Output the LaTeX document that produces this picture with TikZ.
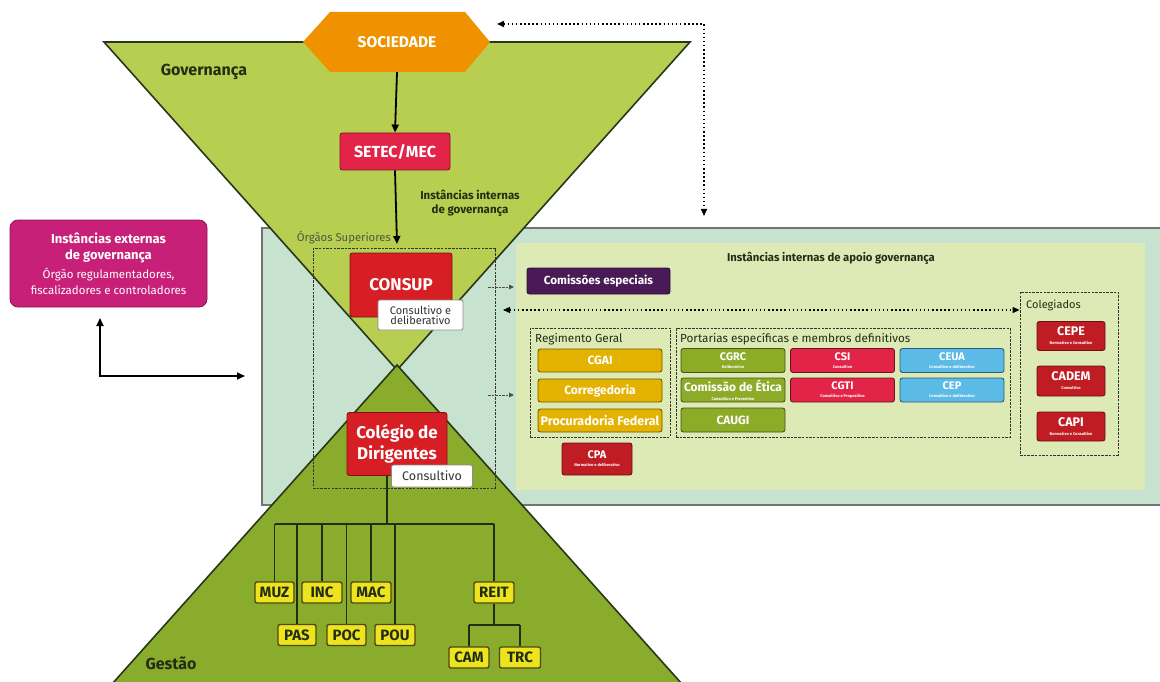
\documentclass[tikz,border=0pt]{standalone}
\usepackage{fontspec}
\setmainfont{Fira Sans}
\usetikzlibrary{arrows.meta}

\definecolor{topgreen}{RGB}{184,206,80}
\definecolor{botgreen}{RGB}{138,172,44}
\definecolor{mint}{RGB}{200,226,208}
\definecolor{innerpanel}{RGB}{222,234,182}
\definecolor{edgeline}{RGB}{40,55,25}
\definecolor{inkdark}{RGB}{35,45,20}
\definecolor{socorange}{RGB}{240,146,0}
\definecolor{setecred}{RGB}{226,36,72}
\definecolor{consupred}{RGB}{214,30,36}
\definecolor{extmagenta}{RGB}{200,32,120}
\definecolor{purplebox}{RGB}{74,26,86}
\definecolor{goldbox}{RGB}{228,178,0}
\definecolor{greenbox}{RGB}{140,172,40}
\definecolor{cyanbox}{RGB}{92,186,230}
\definecolor{darkred}{RGB}{192,28,36}
\definecolor{treeyellow}{RGB}{238,228,30}
\definecolor{treeedge}{RGB}{80,72,20}

\newcommand\sublbl[1]{\\[-3pt]\fontsize{4}{4}\selectfont #1}
\newcommand\exttitle{\bfseries\fontsize{13}{15}\selectfont}

\tikzset{
  rb/.style={rounded corners=2.5pt, line width=0.9pt, text=white, align=center,
    inner sep=0pt, font=\bfseries\fontsize{12}{12}\selectfont},
  goldb/.style={rb, fill=goldbox, draw=goldbox!50!black, minimum width=124, minimum height=23},
  greenb/.style={rb, fill=greenbox, draw=greenbox!50!black, minimum width=104, minimum height=24},
  redb/.style={rb, fill=setecred, draw=setecred!50!black, minimum width=104, minimum height=24},
  cyanb/.style={rb, fill=cyanbox, draw=cyanbox!50!black, minimum width=104, minimum height=24},
  colb/.style={rb, fill=darkred, draw=darkred!55!black, minimum width=68, minimum height=29,
    font=\bfseries\fontsize{12.5}{12}\selectfont},
  whiteb/.style={rounded corners=2pt, fill=white, draw=black!45, line width=0.8pt,
    align=center, inner sep=0pt, text=black!80, font=\fontsize{11}{11}\selectfont},
  treeb/.style={rounded corners=2pt, fill=treeyellow, draw=treeedge, line width=1.4pt,
    inner sep=0pt, minimum height=21, text=inkdark, font=\bfseries\fontsize{15}{15}\selectfont},
  dbox/.style={draw=black!80, line width=0.9pt, dash pattern=on 2.5pt off 1.2pt, inner sep=0pt},
  lbl/.style={inner sep=0pt, text=inkdark, font=\fontsize{11.7}{12}\selectfont},
  tip/.style={},
  arr/.style={line width=1.8pt, -{Triangle[length=8pt,width=7pt]}},
  dblarr/.style={line width=1.8pt, {Triangle[length=8pt,width=7pt]}-{Triangle[length=8pt,width=7pt]}},
  dotarr/.style={line width=1.6pt, dash pattern=on 1.5pt off 2.6pt,
    {Triangle[length=7pt,width=6pt]}-{Triangle[length=7pt,width=6pt]}},
  smallarr/.style={line width=1pt, draw=black!70, dash pattern=on 2.5pt off 1pt,
    -{Triangle[length=5pt,width=4.5pt]}},
  treeline/.style={line width=1.8pt, draw=inkdark},
}

\begin{document}
\begin{tikzpicture}[x=1pt,y=-1pt]
\useasboundingbox (0,0) rectangle (1160,682);
\clip (0,0) rectangle (1160,682);
\fill[white] (0,0) rectangle (1160,682);

% background panels of the internal support bodies
\draw[fill=mint, draw=black!55, line width=1.4pt] (262,228) rectangle (1163,505);
\fill[innerpanel] (516,243) rectangle (1145,490);

% hourglass: governance above, management below
\draw[fill=topgreen, draw=edgeline, line width=1.6pt] (104,42) -- (690,42) -- (397,370) -- cycle;
\draw[fill=botgreen, draw=edgeline, line width=1.6pt] (397,365) -- (690,693) -- (104,693) -- cycle;

% society hexagon
\fill[socorange] (303,42) -- (330,12) -- (465,12) -- (490,42) -- (465,72) -- (330,72) -- cycle;
\node[inner sep=0pt, minimum width=187, minimum height=60, text=white,
  font=\bfseries\fontsize{15.5}{16}\selectfont] (soc) at (397,42) {SOCIEDADE};

\node[lbl, font=\bfseries\fontsize{16}{16}\selectfont] (gov) at (204,72) {Governança};
\node[lbl, font=\bfseries\fontsize{16}{16}\selectfont] (gest) at (171,663) {Gestão};

\node[rb, fill=setecred, draw=setecred!60!black, minimum width=110, minimum height=37,
  font=\bfseries\fontsize{16}{16}\selectfont] (setec) at (395,151.5) {SETEC/MEC};

\node[lbl, align=center, font=\bfseries\fontsize{11.5}{14}\selectfont] (iig) at (470,203)
  {Instâncias internas\\de governança};

% external governance bodies
\node[rounded corners=8pt, fill=extmagenta, draw=extmagenta!70!black, line width=0.8pt,
  minimum width=197, minimum height=87, inner sep=0pt, text=white, align=center,
  font=\fontsize{11.5}{16}\selectfont] (ext) at (108.5,263.5)
  {\exttitle Instâncias externas\\\exttitle de governança\\[3pt]Órgão regulamentadores,\\fiscalizadores e controladores};
\coordinate (lt) at (100,318);
\coordinate (le) at (245,376);
\draw[dblarr] (lt) |- (le);

% top right dotted link between society and the support panel
\coordinate (socr) at (497,24);
\coordinate (pant) at (704,216);
\draw[dotarr] (socr) -| (pant);

% superior bodies
\node[dbox, minimum width=182, minimum height=240] (orgsup) at (404,368) {};
\node[lbl, anchor=east, text=inkdark!80, font=\fontsize{11.3}{12}\selectfont] (osl) at (391,238) {Órgãos Superiores};
\coordinate (osin) at (397,244);
\draw[arr] (setec.south) -- (osin);
\draw[arr] (soc.south) -- (setec.north);

\node[rb, fill=consupred, draw=consupred!60!black, minimum width=102, minimum height=64,
  font=\bfseries\fontsize{17}{17}\selectfont] (consup) at (401,285) {\raisebox{2pt}{CONSUP}};
\node[whiteb, minimum width=85, minimum height=30] (consupt) at (420.5,315) {Consultivo e\\[-1pt]deliberativo};

\coordinate (tj) at (387,524);
\node[rb, fill=consupred, draw=consupred!60!black, minimum width=100, minimum height=63,
  font=\bfseries\fontsize{17}{20}\selectfont] (colg) at (397,444) {\raisebox{3pt}{\shortstack{Colégio de\\Dirigentes}}};
\draw[treeline] (colg.south -| tj) -- (tj);
\node[whiteb, minimum width=81, minimum height=22, font=\fontsize{12.5}{12}\selectfont] (colgt) at (432,476) {Consultivo};

% short links to the support panel
\coordinate (a1s) at (488,287); \coordinate (a1e) at (514,287);
\coordinate (a2s) at (488,395); \coordinate (a2e) at (514,395);
\draw[smallarr] (a1s) -- (a1e);
\draw[smallarr] (a2s) -- (a2e);

% internal support bodies
\node[lbl, font=\bfseries\fontsize{11.3}{12}\selectfont] (iiag) at (831,258) {Instâncias internas de apoio governança};
\node[rb, fill=purplebox, draw=purplebox!60!black, minimum width=143, minimum height=26,
  font=\bfseries\fontsize{11.7}{12}\selectfont] (com) at (598.5,281) {Comissões especiais};

\node[dbox, minimum width=140, minimum height=109] (reg) at (600,382.5) {};
\node[lbl, anchor=west] (regl) at (535,339) {Regimento Geral};
\node[goldb] (cgai) at (600,360.5) {CGAI};
\node[goldb] (corr) at (600,390.5) {Corregedoria};
\node[goldb, font=\bfseries\fontsize{12.5}{12}\selectfont] (proc) at (600,420.5) {Procuradoria Federal};

\node[dbox, minimum width=334, minimum height=109] (port) at (843,382.5) {};
\node[lbl, anchor=west] (portl) at (680,339) {Portarias específicas e membros definitivos};
\node[greenb, font=\bfseries\fontsize{11}{11}\selectfont] (cgrc) at (733,360.5) {CGRC\sublbl{Deliberativo}};
\node[greenb] (etica) at (733,390) {Comissão de Ética\sublbl{Consultivo e Preventivo}};
\node[greenb] (caugi) at (733,420) {CAUGI};
\node[redb, font=\bfseries\fontsize{11}{11}\selectfont] (csi) at (842.5,360.5) {CSI\sublbl{Consultivo}};
\node[redb, font=\bfseries\fontsize{11}{11}\selectfont] (cgti) at (842.5,390) {CGTI\sublbl{Consultivo e Propositivo}};
\node[cyanb, font=\bfseries\fontsize{11}{11}\selectfont] (ceua) at (952,360.5) {CEUA\sublbl{Consultivo e deliberativo}};
\node[cyanb, font=\bfseries\fontsize{11}{11}\selectfont] (cep) at (952,390) {CEP\sublbl{Consultivo e deliberativo}};

\node[colb, minimum width=70, minimum height=32, font=\bfseries\fontsize{11}{11}\selectfont] (cpa) at (597,459) {CPA\sublbl{Normativo e deliberativo}};

\node[dbox, minimum width=98, minimum height=163] (cole) at (1069,373.5) {};
\node[lbl, anchor=west, font=\fontsize{11}{12}\selectfont] (colel) at (1026,305) {Colegiados};
\node[colb] (cepe) at (1071,336) {CEPE\sublbl{Normativo e Consultivo}};
\node[colb, minimum height=30] (cadem) at (1071,381) {CADEM\sublbl{Consultivo}};
\node[colb] (capi) at (1071,426.5) {CAPI\sublbl{Normativo e Consultivo}};

\coordinate (dl) at (503,310);
\draw[dotarr, line width=1.2pt] (dl) -- (cole.west |- dl);

% management units
\node[treeb, minimum width=39] (muz) at (274.5,592.5) {MUZ};
\node[treeb, minimum width=40] (inc) at (322,592.5) {INC};
\node[treeb, minimum width=40] (mac) at (371,592.5) {MAC};
\node[treeb, minimum width=40] (reit) at (494,592.5) {REIT};
\node[treeb, minimum width=38] (pas) at (297,635) {PAS};
\node[treeb, minimum width=39] (poc) at (346.5,635) {POC};
\node[treeb, minimum width=40] (pou) at (395,635) {POU};
\node[treeb, minimum width=40] (cam) at (469,657.5) {CAM};
\node[treeb, minimum width=41] (trc) at (520,657.5) {TRC};

\draw[treeline] (muz.north |- tj) -- (reit.north |- tj);
\foreach \u in {muz,inc,mac,reit,pas,poc,pou}
  \draw[treeline] (\u.north |- tj) -- (\u.north);
\coordinate (rj) at (494,625);
\draw[treeline] (reit.south) -- (rj);
\draw[treeline] (cam.north |- rj) -- (trc.north |- rj);
\draw[treeline] (cam.north |- rj) -- (cam.north);
\draw[treeline] (trc.north |- rj) -- (trc.north);
\end{tikzpicture}
\end{document}
